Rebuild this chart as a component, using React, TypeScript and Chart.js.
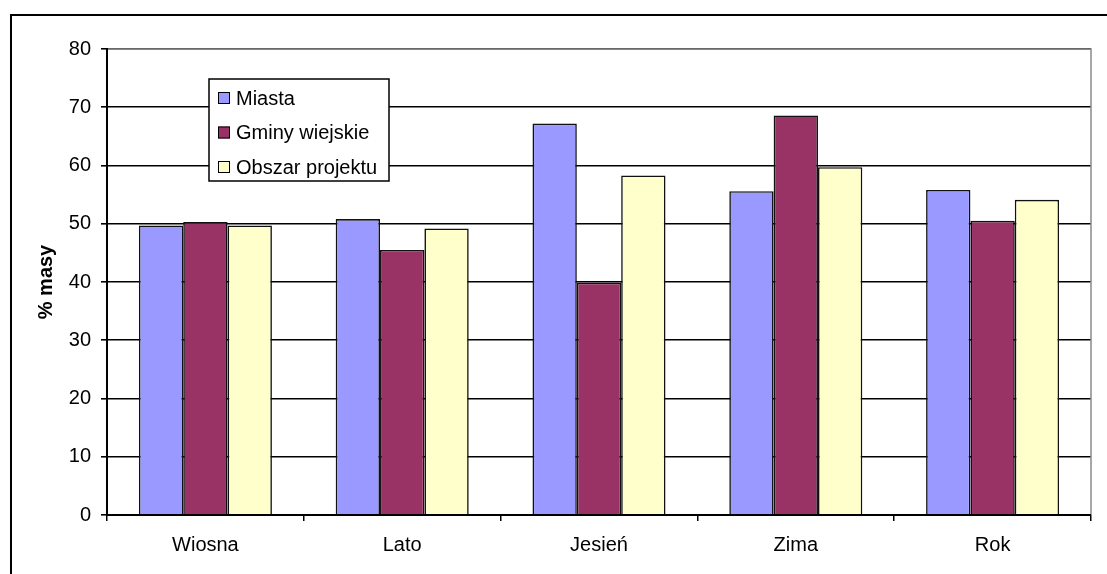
import React, { useEffect, useRef } from "react";
import { Chart, registerables } from "chart.js";

Chart.register(...registerables);

const categories = ["Wiosna", "Lato", "Jesień", "Zima", "Rok"];
const miasta = [49.7, 50.8, 67.2, 55.6, 55.8];
const gminyWiejskie = [50.3, 45.5, 39.9, 68.6, 50.5];
const obszarProjektu = [49.7, 49.2, 58.3, 59.7, 54.1];
const seriesLabels = ["Miasta", "Gminy wiejskie", "Obszar projektu"];
const seriesColors = ["#9999FF", "#993366", "#FFFFCC"];
const yTitle = "% masy";

const FONT = "'Liberation Sans', Arial, sans-serif";

const framePlugin = {
  id: "frame",
  afterDatasetsDraw(chart: any) {
    const { ctx, chartArea } = chart;
    const { left, right, top, bottom } = chartArea;
    ctx.save();
    ctx.strokeStyle = "#8a8a8a";
    ctx.lineWidth = 1.5;
    ctx.beginPath();
    ctx.moveTo(left, top);
    ctx.lineTo(right, top);
    ctx.lineTo(right, bottom);
    ctx.stroke();
    ctx.strokeStyle = "#000";
    ctx.lineWidth = 2;
    ctx.beginPath();
    ctx.moveTo(left, top - 1);
    ctx.lineTo(left, bottom);
    ctx.lineTo(right, bottom);
    ctx.stroke();
    ctx.restore();
  },
  afterDraw(chart: any) {
    const { ctx } = chart;
    ctx.save();
    ctx.strokeStyle = "#000";
    ctx.lineWidth = 2;
    ctx.strokeRect(11, 15, 1200, 700);
    const lx = 209, ly = 79, lw = 180, lh = 102;
    ctx.fillStyle = "#fff";
    ctx.fillRect(lx, ly, lw, lh);
    ctx.strokeStyle = "#000";
    ctx.lineWidth = 1.5;
    ctx.strokeRect(lx, ly, lw, lh);
    ctx.font = `20px ${FONT}`;
    ctx.textBaseline = "middle";
    ctx.textAlign = "left";
    const ys = [98, 132.5, 167];
    chart.data.datasets.forEach((ds: any, i: number) => {
      const y = ys[i];
      ctx.fillStyle = ds.backgroundColor;
      ctx.fillRect(218, y - 6, 12, 12);
      ctx.strokeStyle = "#000";
      ctx.lineWidth = 1;
      ctx.strokeRect(218.5, y - 5.5, 11, 11);
      ctx.fillStyle = "#000";
      ctx.fillText(ds.label, 236, y + 1);
    });
    ctx.restore();
  },
};

export default function App() {
  const ref = useRef<HTMLCanvasElement | null>(null);
  useEffect(() => {
    if (!ref.current) return;
    const series = [miasta, gminyWiejskie, obszarProjektu];
    const chart = new Chart(ref.current, {
      type: "bar",
      data: {
        labels: categories,
        datasets: series.map((d, i) => ({
          label: seriesLabels[i],
          data: d,
          backgroundColor: seriesColors[i],
          borderColor: "#111",
          borderWidth: 1.6,
          categoryPercentage: 0.676,
          barPercentage: 1,
        })),
      },
      options: {
        responsive: false,
        animation: false,
        layout: { padding: { left: 0, top: 49, right: 16, bottom: 0 } },
        plugins: {
          legend: { display: false },
          tooltip: { enabled: false },
        },
        scales: {
          x: {
            afterFit: (s: any) => {
              s.height = 59;
            },
            grid: {
              offset: true,
              drawOnChartArea: false,
              drawTicks: true,
              tickLength: 6,
              color: "#000",
              lineWidth: 1.5,
            },
            border: { display: false },
            ticks: {
              color: "#000",
              font: { family: FONT, size: 20 },
              padding: 12,
              maxRotation: 0,
            },
          },
          y: {
            min: 0,
            max: 80,
            afterFit: (s: any) => {
              s.width = 107;
            },
            grid: {
              color: "#000",
              lineWidth: 1.6,
              tickLength: 6,
              drawTicks: true,
            },
            border: { display: false },
            ticks: {
              stepSize: 10,
              color: "#000",
              font: { family: FONT, size: 20 },
              padding: 10,
            },
            title: {
              display: true,
              text: yTitle,
              color: "#000",
              font: { family: FONT, size: 20, weight: "bold" },
              padding: { top: 34, bottom: 0 },
            },
          },
        },
      },
      plugins: [framePlugin],
    });
    return () => chart.destroy();
  }, []);
  return (
    <div style={{ position: "fixed", left: 0, top: 0, width: 1107, height: 574, background: "#fff" }}>
      <canvas ref={ref} width={1107} height={574} />
    </div>
  );
}
